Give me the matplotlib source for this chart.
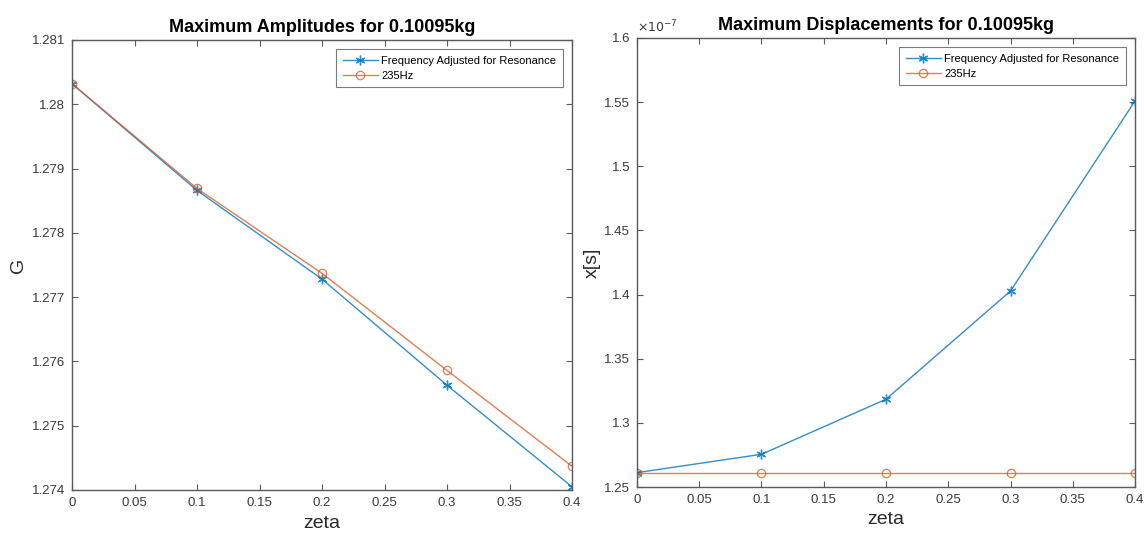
import matplotlib.pyplot as plt
from matplotlib.ticker import FuncFormatter

# data
zeta = [0, 0.1, 0.2, 0.3, 0.4]
amp_resonance = [1.28032, 1.27866, 1.27728, 1.27563, 1.27405]
amp_235hz = [1.28032, 1.27869, 1.27737, 1.27586, 1.27437]
disp_resonance = [1.2612e-7, 1.2755e-7, 1.3184e-7, 1.4028e-7, 1.5509e-7]
disp_235hz = [1.2612e-7, 1.2612e-7, 1.2612e-7, 1.2612e-7, 1.2612e-7]

legend_labels = ['Frequency Adjusted for Resonance', '235Hz']
x_ticks = [0, 0.05, 0.1, 0.15, 0.2, 0.25, 0.3, 0.35, 0.4]
amp_ticks = [1.274, 1.275, 1.276, 1.277, 1.278, 1.279, 1.28, 1.281]
disp_ticks = [1.25e-7, 1.3e-7, 1.35e-7, 1.4e-7, 1.45e-7, 1.5e-7, 1.55e-7, 1.6e-7]

blue = '#0072BD'
orange = '#D95319'
axis_col = '#5a5a5a'
asterisk = (6, 2, 0)

plt.rcParams['font.family'] = ['Liberation Sans', 'DejaVu Sans']

fig = plt.figure(figsize=(11.44, 5.4), dpi=100)
ax1 = fig.add_axes([72 / 1144, 1 - 490 / 540, 500 / 1144, 450 / 540])
ax2 = fig.add_axes([637 / 1144, 1 - 487 / 540, 498 / 1144, 449 / 540])


def style_axes(ax):
    for sp in ax.spines.values():
        sp.set_color(axis_col)
        sp.set_linewidth(1.0)
    ax.tick_params(direction='in', top=True, right=True, length=4,
                   color=axis_col, labelcolor='#3a3a3a', labelsize=9.5,
                   width=0.8, pad=5)
    ax.set_xlim(0, 0.4)
    ax.set_xticks(x_ticks)
    ax.xaxis.set_major_formatter(FuncFormatter(lambda v, p: '%g' % round(v, 3)))
    ax.set_xlabel('zeta', fontsize=14, color='#2a2a2a', labelpad=4)


def draw_pair(ax, y_res, y_235):
    ax.plot(zeta, y_res, color=blue, marker=asterisk, markersize=7,
            markeredgewidth=1.0, linewidth=1.0, alpha=0.8, label=legend_labels[0])
    ax.plot(zeta, y_235, color=orange, marker='o', markersize=6,
            markerfacecolor='none', markeredgewidth=0.9, linewidth=1.0,
            alpha=0.75, label=legend_labels[1])


# left: amplitudes
draw_pair(ax1, amp_resonance, amp_235hz)
ax1.set_ylim(1.274, 1.281)
ax1.set_yticks(amp_ticks)
ax1.yaxis.set_major_formatter(FuncFormatter(lambda v, p: '%g' % round(v, 4)))
ax1.set_ylabel('G', fontsize=14, color='#2a2a2a')
ax1.yaxis.set_label_coords(-0.09, 0.5)
ax1.set_title('Maximum Amplitudes for 0.10095kg', fontsize=13,
              fontweight='bold', pad=6)
style_axes(ax1)

# right: displacements
draw_pair(ax2, disp_resonance, disp_235hz)
ax2.set_ylim(1.25e-7, 1.6e-7)
ax2.set_yticks(disp_ticks)
ax2.yaxis.set_major_formatter(FuncFormatter(lambda v, p: '%g' % round(v / 1e-7, 3)))
ax2.text(0.0, 1.005, r'$\times10^{-7}$', transform=ax2.transAxes,
         fontsize=9, color='#3a3a3a', ha='left', va='bottom')
ax2.set_ylabel('x[s]', fontsize=14, color='#2a2a2a')
ax2.yaxis.set_label_coords(-0.072, 0.5)
ax2.set_title('Maximum Displacements for 0.10095kg', fontsize=13,
              fontweight='bold', pad=6)
style_axes(ax2)

for ax in (ax1, ax2):
    leg = ax.legend(loc='upper right', fontsize=8, frameon=True, fancybox=False,
                    borderaxespad=0.8, handlelength=3.2, labelspacing=0.45,
                    borderpad=0.6, handletextpad=0.3)
    leg.get_frame().set_edgecolor(axis_col)
    leg.get_frame().set_linewidth(0.8)

fig.savefig('out.png', dpi=100)
